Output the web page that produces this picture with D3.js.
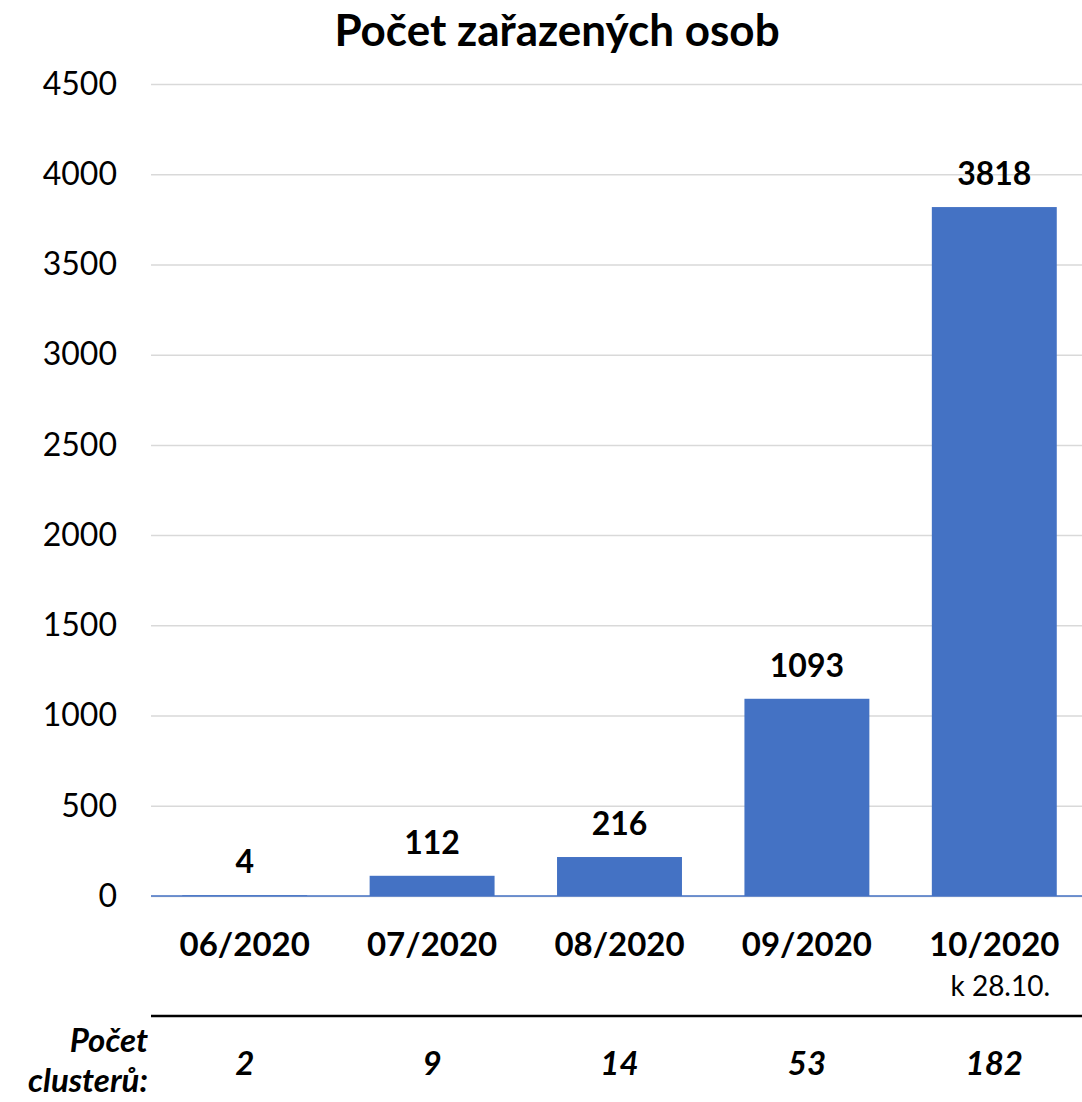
<!DOCTYPE html>
<html>
<head>
<meta charset="utf-8">
<script src="https://cdn.jsdelivr.net/npm/d3@7"></script>
<style>
  body { margin: 0; background: #fff; }
  svg { font-family: Lato, 'Open Sans', sans-serif; }
</style>
</head>
<body>
<svg id="chart" width="1082" height="1102"></svg>
<script>
const months = ['06/2020', '07/2020', '08/2020', '09/2020', '10/2020']
const persons = [4, 112, 216, 1093, 3818]
const clusters = [2, 9, 14, 53, 182]
const yTicks = [0, 500, 1000, 1500, 2000, 2500, 3000, 3500, 4000, 4500]

document.addEventListener('DOMContentLoaded', function () {
  drawBarChart()
})

function drawBarChart() {
  const data = months.map((m, i) => ({ month: m, value: persons[i], clusters: clusters[i] }))
  const svg = d3.select('#chart')

  const x = d3.scaleBand()
    .domain(months)
    .range([151, 1088])
    .paddingInner(1 / 3)
    .paddingOuter(1 / 6)
  const y = d3.scaleLinear().domain([0, 4500]).range([896, 84])

  // title
  svg.append('text')
    .attr('x', 557)
    .attr('y', 46)
    .attr('text-anchor', 'middle')
    .attr('font-weight', 'bold')
    .attr('font-size', 44)
    .text('Počet zařazených osob')

  // gridlines + y labels
  const yAxis = svg.append('g')
    .attr('transform', 'translate(151,0)')
    .call(d3.axisLeft(y).tickValues(yTicks).tickFormat(d3.format('d')).tickSize(-940).tickPadding(34))
  yAxis.select('.domain').remove()
  yAxis.selectAll('.tick line')
    .attr('stroke', '#d9d9d9')
    .attr('stroke-width', 1.5)
  yAxis.selectAll('.tick text')
    .attr('font-size', 32)
    .attr('fill', '#000')
    .attr('font-family', 'Lato, sans-serif')

  // bars
  svg.append('g')
    .selectAll('rect')
    .data(data)
    .join('rect')
    .attr('x', d => x(d.month))
    .attr('y', d => y(d.value))
    .attr('width', x.bandwidth())
    .attr('height', d => y(0) - y(d.value))
    .attr('fill', '#4472C4')

  // zero line
  svg.append('line')
    .attr('x1', 151).attr('x2', 1082)
    .attr('y1', y(0)).attr('y2', y(0))
    .attr('stroke', '#4472C4')
    .attr('stroke-width', 1.5)

  // value labels
  svg.append('g')
    .selectAll('text')
    .data(data)
    .join('text')
    .attr('x', d => x(d.month) + x.bandwidth() / 2)
    .attr('y', d => y(d.value) - 22)
    .attr('text-anchor', 'middle')
    .attr('font-weight', 'bold')
    .attr('font-size', 32)
    .text(d => d.value)

  // category labels
  svg.append('g')
    .selectAll('text')
    .data(data)
    .join('text')
    .attr('x', d => x(d.month) + x.bandwidth() / 2)
    .attr('y', 956)
    .attr('text-anchor', 'middle')
    .attr('font-weight', 'bold')
    .attr('font-size', 33)
    .text(d => d.month)

  svg.append('text')
    .attr('x', x('10/2020') + x.bandwidth() / 2 + 6)
    .attr('y', 996)
    .attr('text-anchor', 'middle')
    .attr('font-size', 28)
    .text('k 28.10.')

  // separator
  svg.append('line')
    .attr('x1', 151).attr('x2', 1082)
    .attr('y1', 1016).attr('y2', 1016)
    .attr('stroke', '#000')
    .attr('stroke-width', 2.5)

  // cluster row
  const lab = svg.append('text')
    .attr('text-anchor', 'end')
    .attr('font-weight', 'bold')
    .attr('font-style', 'italic')
    .attr('font-size', 33)
  lab.append('tspan').attr('x', 148).attr('y', 1052).text('Počet')
  lab.append('tspan').attr('x', 148).attr('y', 1092).text('clusterů:')

  svg.append('g')
    .selectAll('text')
    .data(data)
    .join('text')
    .attr('x', d => x(d.month) + x.bandwidth() / 2)
    .attr('y', 1075)
    .attr('text-anchor', 'middle')
    .attr('font-weight', 'bold')
    .attr('font-style', 'italic')
    .attr('font-size', 33)
    .text(d => d.clusters)
}
</script>
</body>
</html>
